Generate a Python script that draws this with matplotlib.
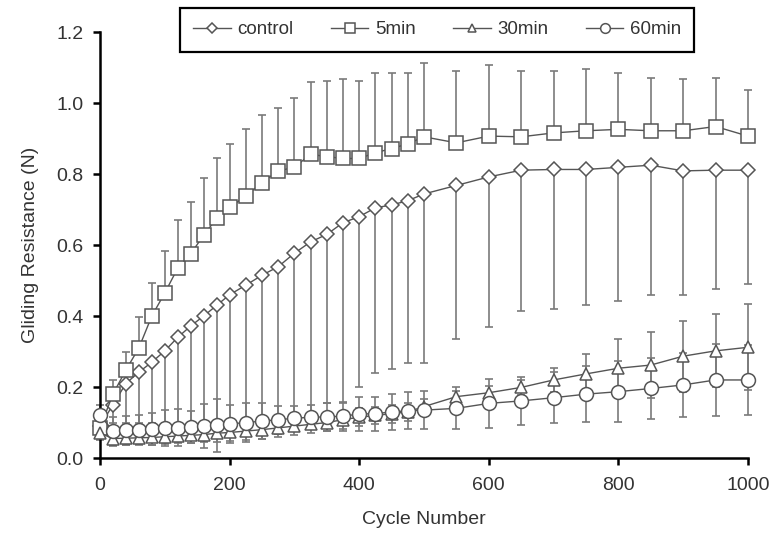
import numpy as np
import matplotlib
matplotlib.use('Agg')
import matplotlib.pyplot as plt

plt.rcParams['font.family'] = ['Liberation Sans', 'DejaVu Sans']

# Cycle numbers at which resistance was measured
cycles = [0, 20, 40, 60, 80, 100, 120, 140, 160, 180, 200, 225, 250, 275, 300,
          325, 350, 375, 400, 425, 450, 475, 500, 550, 600, 650, 700, 750, 800,
          850, 900, 950, 1000]

# control: mean and lower end of error bar
control = [0.09, 0.15, 0.21, 0.242, 0.27, 0.302, 0.34, 0.372, 0.40, 0.43, 0.46,
           0.487, 0.515, 0.539, 0.577, 0.609, 0.63, 0.663, 0.68, 0.705, 0.713,
           0.725, 0.744, 0.768, 0.792, 0.811, 0.813, 0.813, 0.819, 0.825, 0.809,
           0.811, 0.811]
control_low = [0.07, 0.10, 0.10, 0.10, 0.10, 0.10, 0.10, 0.10, 0.10, 0.10, 0.10,
               0.10, 0.10, 0.10, 0.10, 0.12, 0.154, 0.154, 0.20, 0.24, 0.25,
               0.267, 0.267, 0.334, 0.37, 0.415, 0.42, 0.43, 0.443, 0.459, 0.46,
               0.475, 0.49]

# 5min: mean and upper end of error bar
min5 = [0.085, 0.18, 0.248, 0.31, 0.40, 0.465, 0.535, 0.575, 0.628, 0.675, 0.706,
        0.738, 0.776, 0.809, 0.819, 0.856, 0.849, 0.844, 0.844, 0.86, 0.872,
        0.885, 0.905, 0.888, 0.907, 0.905, 0.916, 0.922, 0.926, 0.922, 0.922,
        0.934, 0.907]
min5_high = [0.11, 0.22, 0.30, 0.396, 0.494, 0.584, 0.672, 0.722, 0.788, 0.844,
             0.886, 0.927, 0.966, 0.987, 1.013, 1.06, 1.063, 1.067, 1.063, 1.085,
             1.085, 1.085, 1.112, 1.091, 1.107, 1.091, 1.091, 1.096, 1.085, 1.07,
             1.067, 1.07, 1.037]

# 30min: mean and SD
min30 = [0.07, 0.055, 0.056, 0.057, 0.058, 0.06, 0.062, 0.064, 0.066, 0.07, 0.072,
         0.076, 0.08, 0.085, 0.09, 0.095, 0.10, 0.108, 0.115, 0.12, 0.125, 0.13,
         0.145, 0.173, 0.184, 0.199, 0.22, 0.237, 0.253, 0.262, 0.287, 0.302, 0.312]
min30_sd = [0.02, 0.02, 0.02, 0.02, 0.02, 0.02, 0.02, 0.022, 0.022, 0.024, 0.025,
            0.025, 0.025, 0.025, 0.025, 0.025, 0.025, 0.025, 0.025, 0.025, 0.025,
            0.025, 0.02, 0.015, 0.02, 0.02, 0.033, 0.056, 0.082, 0.094, 0.10,
            0.103, 0.121]

# 60min: mean and SD
min60 = [0.12, 0.077, 0.078, 0.08, 0.082, 0.084, 0.086, 0.088, 0.09, 0.092, 0.096,
         0.10, 0.104, 0.108, 0.112, 0.115, 0.116, 0.118, 0.124, 0.125, 0.13, 0.133,
         0.135, 0.14, 0.154, 0.161, 0.17, 0.18, 0.187, 0.196, 0.206, 0.22, 0.22]
min60_sd = [0.03, 0.04, 0.04, 0.04, 0.045, 0.05, 0.052, 0.045, 0.063, 0.074, 0.053,
            0.054, 0.05, 0.04, 0.035, 0.034, 0.039, 0.041, 0.047, 0.048, 0.05,
            0.052, 0.054, 0.059, 0.07, 0.068, 0.072, 0.078, 0.085, 0.087, 0.091,
            0.101, 0.099]

x = np.array(cycles)
control = np.array(control)
min5 = np.array(min5)
zeros = np.zeros(len(x))

line_col = '#555555'
err_col = '#7a7a7a'
text_col = '#333333'

fig = plt.figure(figsize=(7.78, 5.44), dpi=100)
ax = fig.add_axes([0.1285, 0.158, 0.8329, 0.783])

series = [
    (control, [control - np.array(control_low), zeros], 'D', 7, 'control'),
    (min5, [zeros, np.array(min5_high) - min5], 's', 9.5, '5min'),
    (np.array(min30), [np.array(min30_sd), np.array(min30_sd)], '^', 8.5, '30min'),
    (np.array(min60), [np.array(min60_sd), np.array(min60_sd)], 'o', 10, '60min'),
]

handles = []
for y, yerr, mk, ms, name in series:
    ax.errorbar(x, y, yerr=yerr, fmt='none', ecolor=err_col, elinewidth=1.2,
                capsize=2.8, capthick=1.2, zorder=2, clip_on=False)
    ln, = ax.plot(x, y, color=line_col, linewidth=1.0, marker=mk, markersize=ms,
                  markerfacecolor='white', markeredgecolor=line_col,
                  markeredgewidth=1.1, zorder=3, clip_on=False, label=name)
    handles.append(ln)

ax.set_xlim(0, 1000)
ax.set_ylim(0, 1.2)
ax.set_xticks([0, 200, 400, 600, 800, 1000])
ax.set_yticks([0.0, 0.2, 0.4, 0.6, 0.8, 1.0, 1.2])
ax.set_yticklabels(['%.1f' % v for v in [0.0, 0.2, 0.4, 0.6, 0.8, 1.0, 1.2]])

for side in ['top', 'right']:
    ax.spines[side].set_visible(False)
for side in ['left', 'bottom']:
    ax.spines[side].set_linewidth(1.8)
    ax.spines[side].set_color('black')
ax.tick_params(direction='out', length=5, width=1.8, labelsize=14,
               labelcolor=text_col, pad=7)
ax.tick_params(axis='x', pad=9)

ax.set_xlabel('Cycle Number', fontsize=14, color=text_col, labelpad=12)
ax.set_ylabel('Gliding Resistance (N)', fontsize=14, color=text_col, labelpad=12)

leg = fig.legend(handles=handles, loc='center', bbox_to_anchor=(0.562, 0.945),
                 ncol=4, fontsize=13.5, frameon=True, fancybox=False,
                 edgecolor='black', framealpha=1, handlelength=2.0,
                 columnspacing=2.0, handletextpad=0.35, borderpad=0.7,
                 markerscale=0.7)
leg.get_frame().set_linewidth(1.6)
for t in leg.get_texts():
    t.set_color(text_col)

fig.savefig('out.png', dpi=100)
